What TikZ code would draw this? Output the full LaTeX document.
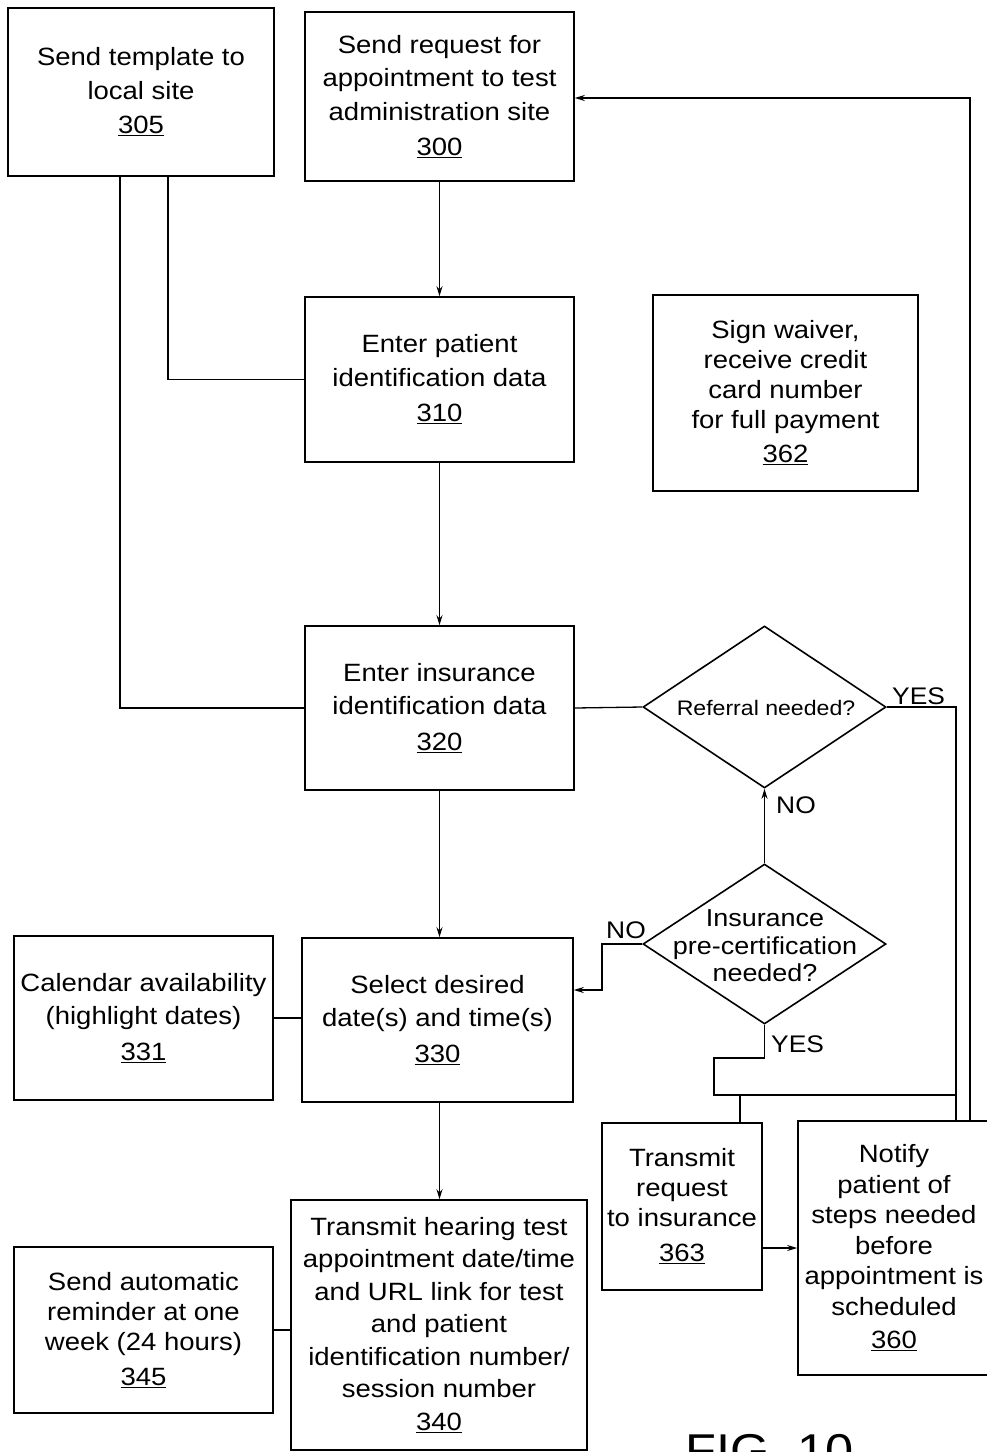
\documentclass[tikz,border=0pt]{standalone}
\usepackage{fontspec}
\setmainfont{Liberation Sans}[FakeStretch=1.1]
\usetikzlibrary{shapes.geometric,arrows.meta}
\begin{document}
\begin{tikzpicture}[x=1pt,y=-1pt,
  box/.style={draw,line width=1.6pt,inner sep=0pt,align=center,font=\fontsize{25}{33.5}\selectfont},
  tbox/.style={box,font=\fontsize{25}{30}\selectfont},
  dia/.style={draw,shape=diamond,line width=1.6pt,inner sep=0pt,minimum width=243pt,minimum height=162pt},
  dtext/.style={inner sep=0pt,align=center},
  wire/.style={line width=1.3pt},
  arr/.style={wire,-{Stealth[length=10pt,width=6pt]}},
  lab/.style={inner sep=0pt,font=\fontsize{24}{28}\selectfont}]
\useasboundingbox (0,0) rectangle (987,1452);

% boxes
\node[box,minimum width=266pt,minimum height=168pt] (b305) at (141,92)
  {Send template to\\local site\\[1pt]\underline{305}};
\node[box,minimum width=269pt,minimum height=169pt] (b300) at (439.5,96.5)
  {Send request for\\appointment to test\\administration site\\[2pt]\underline{300}};
\node[box,minimum width=269pt,minimum height=165pt] (b310) at (439.5,379.5)
  {Enter patient\\identification data\\[2pt]\underline{310}};
\node[tbox,minimum width=265pt,minimum height=196pt] (b362) at (785.5,393)
  {Sign waiver,\\receive credit\\card number\\for full payment\\[4pt]\underline{362}};
\node[box,minimum width=269pt,minimum height=164pt] (b320) at (439.5,708)
  {Enter insurance\\identification data\\[2pt]\underline{320}};
\node[box,minimum width=259pt,minimum height=164pt] (b331) at (143.5,1018)
  {Calendar availability\\(highlight dates)\\[2pt]\underline{331}};
\node[box,minimum width=271pt,minimum height=164pt] (b330) at (437.5,1020)
  {Select desired\\date(s) and time(s)\\[2pt]\underline{330}};
\node[tbox,minimum width=259pt,minimum height=166pt] (b345) at (143.5,1330)
  {Send automatic\\reminder at one\\week (24 hours)\\[5pt]\underline{345}};
\node[box,font=\fontsize{25}{32.5}\selectfont,minimum width=296pt,minimum height=250pt] (b340) at (439,1325)
  {Transmit hearing test\\appointment date/time\\and URL link for test\\and patient\\identification number/\\session number\\\underline{340}};
\node[tbox,minimum width=160pt,minimum height=167pt] (b363) at (682,1206.5)
  {Transmit\\request\\to insurance\\[5pt]\underline{363}};
\node[tbox,font=\fontsize{25}{30.5}\selectfont,minimum width=192pt,minimum height=254pt] (b360) at (894,1248)
  {Notify\\patient of\\steps needed\\before\\appointment is\\scheduled\\[3pt]\underline{360}};

% decisions
\node[dia] (d1) at (764.5,707) {};
\node[dtext,font=\fontsize{21}{25}\selectfont] (d1t) at (766,708) {Referral needed?};
\node[dia,minimum height=160pt] (d2) at (764.5,944) {};
\node[dtext,font=\fontsize{24.5}{27.5}\selectfont] (d2t) at (765,946) {Insurance\\pre-certification\\needed?};

% helper coordinates
\coordinate (yx) at (956,707);
\coordinate (fb) at (970,98);
\coordinate (n2) at (602,990);
\coordinate (j1) at (714,1058);
\coordinate (j2) at (714,1095);
\coordinate (j3) at (740,1095);

% connectors
\draw[wire] ([xshift=27pt]b305.south) |- (b310.west);
\draw[wire] ([xshift=-21pt]b305.south) |- (b320.west);
\draw[arr] (b300.south) -- (b310.north);
\draw[arr] (b310.south) -- (b320.north);
\draw[arr] (b320.south) -- (b320.south |- b330.north);
\draw[arr] ([xshift=2pt]b330.south) -- ([xshift=2pt]b330.south |- b340.north);
\draw[wire] (b331.east) -- (b331.east -| b330.west);
\draw[wire] (b345.east) -- (b345.east -| b340.west);
\draw[wire] (b320.east) -- (d1.west);
\draw[wire] (d1.east) -- (yx) -- (yx |- b360.north);
\draw[arr] (fb |- b360.north) -- (fb) -- (fb -| b300.east);
\draw[arr] (d2.north) -- (d1.south);
\draw[arr] (d2.west) -| (n2) -- (n2 -| b330.east);
\draw[wire] (d2.south) |- (j1) -- (j2) -- (j2 -| yx);
\draw[wire] (j3) -- (j3 |- b363.north);
\draw[arr] (b363.east |- b360.west) -- (b360.west);

% labels
\node[lab,anchor=base west] (lyes1) at (892,704) {YES};
\node[lab,anchor=base west] (lno1) at (776,813) {NO};
\node[lab,anchor=base west] (lno2) at (606,938) {NO};
\node[lab,anchor=base west] (lyes2) at (771,1052) {YES};

% figure caption (cut by the page edge, as in the reference)
\node[inner sep=0pt,anchor=north west,font=\fontsize{46}{50}\selectfont] (fig) at (685,1434) {FIG. 10};
\end{tikzpicture}
\end{document}
